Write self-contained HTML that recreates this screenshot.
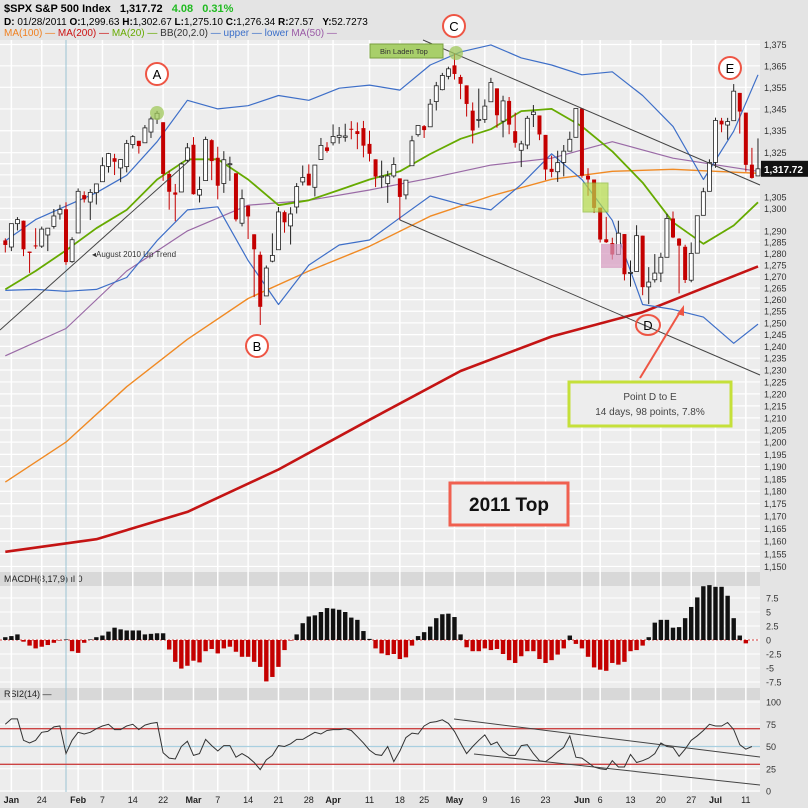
<!DOCTYPE html>
<html><head><meta charset="utf-8"><style>
html,body{margin:0;padding:0;background:#e6e6e6;}
svg{display:block;font-family:"Liberation Sans","DejaVu Sans",sans-serif;}
</style></head><body>
<svg id="chart" width="808" height="808" viewBox="0 0 808 808" xmlns="http://www.w3.org/2000/svg">
<rect x="0" y="0" width="808" height="808" fill="#e4e4e4"/>
<g>
<text x="4" y="12" font-size="11" font-weight="bold" fill="#000">$SPX S&amp;P 500 Index <tspan dx="6">1,317.72</tspan> <tspan dx="6" fill="#22bb22">4.08</tspan> <tspan dx="6" fill="#22bb22">0.31%</tspan></text>
<text x="4" y="25" font-size="10" fill="#000"><tspan font-weight="bold">D:</tspan> 01/28/2011 <tspan font-weight="bold">O:</tspan>1,299.63 <tspan font-weight="bold">H:</tspan>1,302.67 <tspan font-weight="bold">L:</tspan>1,275.10 <tspan font-weight="bold">C:</tspan>1,276.34 <tspan font-weight="bold">R:</tspan>27.57 <tspan dx="6" font-weight="bold">Y:</tspan>52.7273</text>
<text x="4" y="36" font-size="10"><tspan fill="#f08020">MA(100) —</tspan> <tspan fill="#cc1111">MA(200) —</tspan> <tspan fill="#66aa00">MA(20) —</tspan> <tspan fill="#333">BB(20,2.0)</tspan> <tspan fill="#3b6fc9">— upper — lower</tspan> <tspan fill="#9a5aa6">MA(50) —</tspan></text>
</g>
<rect x="0" y="40" width="760" height="532" fill="#ededed"/>
<rect x="0" y="572" width="760" height="14" fill="#d8d8d8"/>
<text x="4" y="582" font-size="9" fill="#222">MACDH(8,17,9) ıl 0</text>
<rect x="0" y="586" width="760" height="102" fill="#ededed"/>
<rect x="0" y="688" width="760" height="12" fill="#d8d8d8"/>
<text x="4" y="697" font-size="9" fill="#222">RSI2(14) —</text>
<rect x="0" y="700" width="760" height="92" fill="#ededed"/>
<g id="grid"></g>
<g id="main"></g>
<g id="anno"></g>
<g id="macd"></g>
<g id="rsi"></g>
<g id="axes"></g>
</svg>
<script>
// ---------- data ----------
const opens=[1285.8,1282.9,1293.2,1294.5,1280.9,1283.6,1283.3,1288.2,1292.0,1297.5,1299.6,1276.5,1289.1,1305.9,1302.8,1307.0,1311.9,1318.8,1322.5,1318.1,1318.7,1328.7,1330.4,1329.5,1334.4,1340.4,1338.9,1315.4,1307.1,1307.3,1321.6,1328.6,1305.9,1312.4,1330.7,1322.7,1311.1,1319.9,1315.7,1293.4,1301.2,1288.5,1279.5,1261.6,1276.7,1281.7,1298.3,1292.2,1300.6,1311.8,1315.5,1309.4,1321.9,1327.4,1329.5,1332.0,1332.0,1335.9,1334.8,1336.2,1329.0,1322.0,1314.0,1311.1,1314.5,1313.4,1306.0,1319.1,1333.2,1337.1,1336.8,1348.4,1353.9,1360.1,1365.2,1359.8,1355.9,1344.2,1340.2,1340.2,1348.3,1354.5,1339.4,1348.7,1334.8,1326.1,1328.5,1342.4,1342.0,1333.1,1317.7,1316.4,1320.6,1325.7,1332.0,1345.2,1314.6,1312.9,1300.3,1286.3,1284.6,1279.6,1288.6,1271.6,1272.2,1287.9,1265.5,1268.6,1271.5,1278.4,1295.5,1286.6,1283.0,1268.4,1280.2,1296.9,1307.6,1320.6,1339.6,1337.6,1339.6,1352.4,1343.3,1319.6,1314.5];
const highs=[1286.7,1293.2,1296.1,1294.6,1280.9,1291.2,1291.9,1291.3,1299.7,1301.6,1302.7,1287.2,1308.9,1307.6,1308.6,1311.0,1322.9,1324.9,1324.5,1322.0,1330.8,1333.0,1330.4,1337.6,1341.5,1344.1,1338.9,1316.9,1310.9,1320.6,1329.4,1332.1,1314.2,1332.3,1331.1,1327.7,1325.7,1323.2,1315.7,1308.4,1301.2,1288.5,1280.9,1274.8,1288.9,1300.6,1299.0,1300.5,1311.3,1319.2,1319.7,1319.5,1331.7,1329.8,1337.9,1336.7,1338.2,1339.4,1338.8,1339.5,1335.0,1322.0,1321.4,1316.8,1322.9,1313.4,1312.7,1332.7,1337.5,1337.6,1349.6,1357.5,1361.7,1364.6,1370.6,1360.8,1355.9,1348.0,1354.4,1349.4,1359.4,1354.5,1351.1,1350.5,1343.3,1330.4,1341.8,1346.8,1342.0,1333.1,1323.7,1325.9,1328.5,1334.6,1345.2,1345.2,1318.0,1312.9,1300.3,1296.2,1287.0,1294.5,1288.6,1277.0,1292.5,1287.9,1274.1,1279.8,1280.4,1297.6,1298.6,1286.8,1283.9,1284.9,1296.8,1309.2,1322.0,1341.0,1340.9,1340.9,1356.5,1352.4,1343.3,1327.2,1331.5];
const lows=[1280.5,1281.1,1290.2,1278.9,1271.6,1282.1,1282.5,1281.1,1291.0,1295.0,1275.1,1276.0,1289.1,1302.6,1294.8,1301.7,1311.9,1316.0,1314.9,1311.7,1316.1,1326.9,1324.6,1329.5,1331.7,1338.1,1312.3,1299.4,1294.3,1307.3,1320.6,1306.1,1302.6,1312.4,1312.6,1304.0,1306.9,1312.3,1294.2,1292.0,1286.4,1261.1,1249.1,1261.6,1276.2,1281.7,1289.2,1284.0,1297.7,1310.2,1310.2,1305.3,1321.9,1325.0,1328.3,1329.1,1330.0,1331.1,1326.6,1322.9,1321.0,1309.5,1309.2,1302.4,1313.7,1294.7,1304.0,1319.1,1332.3,1331.7,1336.8,1344.3,1353.6,1358.7,1358.6,1349.5,1341.5,1329.2,1336.4,1338.6,1348.3,1336.4,1332.0,1333.4,1327.3,1318.5,1326.6,1336.7,1330.7,1312.6,1313.9,1311.8,1314.3,1325.7,1332.0,1313.7,1305.6,1297.9,1284.9,1284.7,1277.4,1279.6,1268.3,1265.6,1272.2,1261.9,1258.1,1267.4,1267.6,1278.4,1286.8,1262.7,1267.2,1267.5,1280.2,1296.9,1307.6,1318.2,1334.3,1330.9,1339.6,1333.7,1316.4,1313.3,1314.5];
const closes=[1283.8,1293.2,1295.0,1281.9,1280.3,1283.4,1290.8,1291.2,1296.6,1299.5,1276.3,1286.1,1307.6,1304.0,1307.1,1310.9,1319.1,1324.6,1320.9,1321.9,1329.2,1332.3,1328.0,1336.3,1340.4,1343.0,1315.4,1307.4,1306.1,1319.9,1327.2,1306.3,1308.4,1331.0,1321.2,1310.1,1321.8,1320.0,1295.1,1304.3,1296.4,1281.9,1256.9,1273.7,1279.2,1298.4,1293.8,1297.5,1309.7,1313.8,1310.2,1319.4,1328.3,1325.8,1332.4,1332.9,1332.6,1335.5,1333.5,1328.2,1324.5,1314.2,1314.4,1314.5,1319.7,1305.1,1312.6,1330.4,1337.4,1335.3,1347.2,1355.7,1360.5,1363.6,1361.2,1356.6,1347.3,1335.1,1340.2,1346.3,1357.2,1342.1,1348.7,1337.8,1329.5,1329.0,1340.7,1343.6,1333.3,1317.4,1316.3,1320.5,1325.7,1331.1,1345.2,1314.6,1312.9,1300.2,1286.2,1285.0,1279.6,1289.0,1271.0,1271.8,1287.9,1265.4,1267.6,1271.5,1278.4,1295.5,1287.1,1283.5,1268.5,1280.1,1296.7,1307.4,1320.6,1339.7,1337.9,1339.2,1353.2,1343.8,1319.5,1313.6,1317.7];
// indicator samples: day index -> value
const ma200Idx=[0,15,30,45,60,75,90,105,124];
const ma200Val=[1155.8,1160.8,1171.7,1188.8,1209.2,1229.6,1244.2,1254.6,1274.4];
const ma100Idx=[0,10,20,30,40,50,60,70,80,90,100,110,124];
const ma100Val=[1183.7,1200,1223,1243,1260.5,1272.4,1283.2,1296.5,1305.5,1313,1316.6,1317.5,1315.7];
const ma50Idx=[0,10,20,30,40,50,60,70,80,90,100,110,124];
const ma50Val=[1236,1247.6,1272.4,1290,1301.4,1303.6,1308.2,1313.5,1319.4,1322.5,1330,1322.5,1316.6];
const bandIdx=[0,5,10,15,20,25,30,35,40,45,50,55,60,65,70,75,80,85,90,95,100,105,110,115,120,124];
const ma20Val=[1264.4,1272.4,1281.4,1291.2,1299.3,1312.9,1322,1322,1312.9,1301.4,1303.6,1308.2,1312.9,1316.6,1324.4,1331.3,1335.7,1344,1345,1337,1325.6,1311.5,1293.8,1284.3,1292.4,1302.7];
const bbUpperVal=[1285.6,1295,1301,1307,1314.8,1330,1349,1345,1346.5,1351.2,1349,1354.6,1356,1353.7,1365.4,1371.5,1374.8,1368.7,1365.4,1360.8,1362.2,1351.2,1337,1312.9,1334.8,1360.8];
const bbLowerVal=[1264,1264.4,1263.6,1264.4,1269.6,1285.7,1299.3,1300.7,1277,1257.9,1275,1283.8,1286,1295.8,1305.5,1301.8,1299.3,1310.7,1324.5,1312.9,1294.7,1257.9,1255.8,1252.5,1241.3,1249.5];
const macdVals=[0.5,0.7,1.0,-0.3,-1.0,-1.5,-1.2,-0.9,-0.5,-0.1,0.1,-2.0,-2.3,-0.5,0.1,0.5,0.8,1.5,2.2,1.9,1.7,1.7,1.7,1.0,1.1,1.2,1.2,-1.7,-3.9,-5.1,-4.6,-3.7,-4.0,-2.0,-1.6,-2.4,-1.5,-1.2,-2.1,-3.0,-3.0,-3.9,-4.8,-7.4,-6.6,-4.8,-1.8,-0.1,1.0,3.0,4.2,4.4,5.0,5.7,5.6,5.4,5.0,4.0,3.6,1.6,0.2,-1.5,-2.4,-2.7,-2.5,-3.4,-3.1,-1.0,0.7,1.4,2.4,3.9,4.6,4.7,4.1,1.0,-1.3,-2.0,-2.0,-1.5,-1.8,-1.6,-2.5,-3.6,-4.1,-2.9,-2.0,-2.0,-3.4,-4.1,-3.6,-2.6,-1.5,0.8,-0.7,-1.5,-3.0,-4.9,-5.3,-5.5,-4.1,-4.4,-3.9,-2.0,-1.8,-1.0,0.5,3.1,3.6,3.6,2.2,2.3,3.9,5.9,7.6,9.6,9.8,9.5,9.5,7.9,3.9,0.8,-0.6];
const rsiVals=[75,81,81,57,54,57,66,67,72,73,42,57,66,64,66,70,73,75,69,69,73,75,69,74,76,77,43,37,36,50,56,40,42,58,51,45,51,51,38,42,38,32,24,35,40,51,50,53,58,58,62,66,64,68,69,69,70,68,61,54,46,41,40,50,33,45,60,65,64,73,77,78,80,76,67,54,42,50,57,63,52,55,45,40,40,51,52,42,34,33,38,44,49,62,38,37,32,27,25,24,34,27,27,41,32,34,37,42,54,50,49,39,47,57,62,68,75,73,73,77,69,52,47,50];
const priceTicks=[1375,1365,1355,1345,1335,1325,1305,1300,1290,1285,1280,1275,1270,1265,1260,1255,1250,1245,1240,1235,1230,1225,1220,1215,1210,1205,1200,1195,1190,1185,1180,1175,1170,1165,1160,1155,1150];
const macdTicks=[7.5,5,2.5,0,-2.5,-5,-7.5];
const macdTickLabels=["7.5","5","2.5","0","-2.5","-5","-7.5"];
const rsiTicks=[100,75,50,25,0];
const dateLabels=["Jan","24","Feb","7","14","22","Mar","7","14","21","28","Apr","11","18","25","May","9","16","23","Jun","6","13","20","27","Jul","11"];
const dateIdx=[1,6,12,16,21,26,31,35,40,45,50,54,60,65,69,74,79,84,89,95,98,103,108,113,117,122];
const lastPrice=1317.72;

// ---------- scales ----------
const NS="http://www.w3.org/2000/svg";
const X=i=>5.3+i*6.07;
const Y=v=>44.5+2921*Math.log(1375/v);
const YM=v=>640-v*5.6;
const YR=v=>791-v*0.89;
function mk(tag,attrs,parent){const e=document.createElementNS(NS,tag);for(const k in attrs)e.setAttribute(k,attrs[k]);parent.appendChild(e);return e;}
const grid=document.getElementById('grid'),main=document.getElementById('main'),macd=document.getElementById('macd'),rsi=document.getElementById('rsi'),axes=document.getElementById('axes'),anno=document.getElementById('anno');

// grid
priceTicks.forEach(t=>{const l=mk('line',{x1:0,x2:760,y1:Y(t),y2:Y(t),stroke:'#ffffff','stroke-width':1.2},grid);

});
[1320,1315,1310,1295].forEach(t=>{const l=mk('line',{x1:0,x2:760,y1:Y(t),y2:Y(t),stroke:'#ffffff','stroke-width':1.2},grid);

});
macdTicks.forEach(t=>{const l=mk('line',{x1:0,x2:760,y1:YM(t),y2:YM(t),stroke:'#fff','stroke-width':1},grid);

});
rsiTicks.forEach(t=>{const l=mk('line',{x1:0,x2:760,y1:YR(t),y2:YR(t),stroke:'#fff','stroke-width':1},grid);

});
dateIdx.forEach(i=>{const l=mk('line',{x1:X(i),x2:X(i),y1:40,y2:792,stroke:'#ffffff','stroke-width':1.5},grid);

});
const cur=mk('line',{x1:X(10),x2:X(10),y1:40,y2:792,stroke:'#9cc4d4','stroke-width':1},grid);



// indicator lines
function line(idx,vals,color,w,name){
  const pts=idx.map((i,k)=>X(i).toFixed(1)+','+Y(vals[k]).toFixed(1)).join(' ');
  const p=mk('polyline',{points:pts,fill:'none',stroke:color,'stroke-width':w,'stroke-linejoin':'round'},main);
  
  
}
line(ma200Idx,ma200Val,'#c41414',2.6,'ma200-line');
line(ma100Idx,ma100Val,'#f08a24',1.4,'ma100-line');
line(ma50Idx,ma50Val,'#9a6aa6',1.2,'ma50-line');
line(bandIdx,bbUpperVal,'#3e6fc8',1.2,'bb-upper-line');
line(bandIdx,bbLowerVal,'#3e6fc8',1.2,'bb-lower-line');
line(bandIdx,ma20Val,'#66aa00',1.8,'ma20-line');

// trendlines (annotations)
function tl(x1,y1,x2,y2,name,g){const l=mk('line',{x1,y1,x2,y2,stroke:'#444','stroke-width':1},g);

}
tl(0,330,190,160,'uptrend-line',anno);
tl(423,40,760,185,'upper-channel-line',anno);
tl(400,220,760,375,'lower-channel-line',anno);

// candles
for(let i=0;i<closes.length;i++){
  const x=X(i),o=opens[i],c=closes[i],up=c>=o,col=up?'#222':'#c40000';
  const w=mk('line',{x1:x,x2:x,y1:Y(highs[i]),y2:Y(lows[i]),stroke:col,'stroke-width':1},main);
  
  
  const top=Y(Math.max(o,c)),bot=Y(Math.min(o,c));
  const r=mk('rect',{x:x-2,y:top,width:4,height:Math.max(1,bot-top),fill:up?'#fff':'#c40000',stroke:col,'stroke-width':up?0.8:0},main);
  
  
}

// MACD
const z=mk('line',{x1:0,x2:760,y1:YM(0),y2:YM(0),stroke:'#d44','stroke-width':1,'stroke-dasharray':'2,2'},macd);


macdVals.forEach((v,i)=>{const y0=YM(0),y1=YM(v);
  const b=mk('rect',{x:X(i)-2.2,y:Math.min(y0,y1),width:4.4,height:Math.abs(y1-y0),fill:v>=0?'#111':'#c40000'},macd);
  
  });

// RSI
[[70,'#c44'],[30,'#c44'],[50,'#a9cfe0']].forEach(([v,c])=>{const l=mk('line',{x1:0,x2:760,y1:YR(v),y2:YR(v),stroke:c,'stroke-width':1.3},rsi);

});
const rp=mk('polyline',{points:rsiVals.map((v,i)=>X(i).toFixed(1)+','+YR(v).toFixed(1)).join(' '),fill:'none',stroke:'#333','stroke-width':1},rsi);


tl(454,719,760,757,'rsi-upper-trendline',rsi);
tl(474,754,760,785,'rsi-lower-trendline',rsi);

// axes labels
priceTicks.forEach(t=>{const s=mk('text',{x:764,y:Y(t)+3.5,'font-size':9,fill:'#333'},axes);s.textContent=t.toLocaleString('en-US');

});
const tag=mk('rect',{x:761,y:Y(lastPrice)-8,width:47,height:16,fill:'#111'},axes);


const tt=mk('text',{x:764,y:Y(lastPrice)+4,'font-size':10,'font-weight':'bold',fill:'#fff'},axes);tt.textContent='1,317.72';


macdTicks.forEach((t,k)=>{const s=mk('text',{x:766,y:YM(t)+3.5,'font-size':9,fill:'#333'},axes);s.textContent=macdTickLabels[k];

});
rsiTicks.forEach(t=>{const s=mk('text',{x:766,y:YR(t)+3.5,'font-size':9,fill:'#333'},axes);s.textContent=t;

});
dateLabels.forEach((d,k)=>{const s=mk('text',{x:X(dateIdx[k]),y:803,'font-size':9,'text-anchor':'middle',fill:'#222','font-weight':/^[A-Z]/.test(d)?'bold':'normal'},axes);s.textContent=d;

});
</script>
<g></g>
<svg width="0" height="0"></svg>
<script>
const A=document.getElementById('anno');
const NS2="http://www.w3.org/2000/svg";
A.insertAdjacentHTML('beforeend',`
<rect x="370" y="44" width="73" height="14" fill="#a8cf6a" stroke="#7aa040"/>
<text x="380" y="54" font-size="7.5" fill="#333">Bin Laden Top</text>
<circle cx="157" cy="113" r="7" fill="#9fc75a" opacity="0.75"/>
<circle cx="456" cy="53" r="7" fill="#9fc75a" opacity="0.75"/>
<rect x="583" y="183" width="25" height="29" fill="#b6dc4a" opacity="0.7" stroke="#8aba30"/>
<rect x="601" y="244" width="22" height="24" fill="#d79ac0" opacity="0.7"/>
<text x="92" y="257" font-size="8" fill="#333">◂August 2010 Up Trend</text>
<g><circle cx="157" cy="74" r="11" fill="#fff" stroke="#ee5544" stroke-width="2"/><text x="157" y="79" font-size="13" text-anchor="middle">A</text></g>
<g><circle cx="257" cy="346" r="11" fill="#fff" stroke="#ee5544" stroke-width="2"/><text x="257" y="351" font-size="13" text-anchor="middle">B</text></g>
<g><circle cx="454" cy="26" r="11" fill="#fff" stroke="#ee5544" stroke-width="2"/><text x="454" y="31" font-size="13" text-anchor="middle">C</text></g>
<g><ellipse cx="648" cy="325" rx="12" ry="10" fill="none" stroke="#ee5544" stroke-width="2"/><text x="648" y="330" font-size="13" text-anchor="middle">D</text></g>
<g><circle cx="730" cy="68" r="11" fill="#fff" stroke="#ee5544" stroke-width="2"/><text x="730" y="73" font-size="13" text-anchor="middle">E</text></g>
<line x1="640" y1="378" x2="680" y2="312" stroke="#ee5544" stroke-width="2"/>
<polygon points="684,305 677,314 684,316" fill="#ee5544"/>
<rect x="569" y="382" width="162" height="44" fill="#ededed" stroke="#c5e03a" stroke-width="3"/>
<text x="650" y="400" font-size="10" text-anchor="middle" fill="#444">Point D to E</text>
<text x="650" y="415" font-size="10" text-anchor="middle" fill="#444">14 days, 98 points, 7.8%</text>
<rect x="450" y="483" width="118" height="42" fill="#ededed" stroke="#f06050" stroke-width="3"/>
<text x="509" y="511" font-size="19" font-weight="bold" text-anchor="middle" fill="#111">2011 Top</text>
`);
</script>
</body></html>
